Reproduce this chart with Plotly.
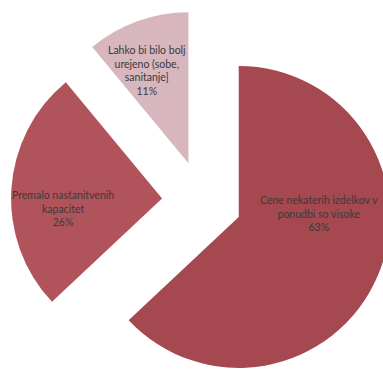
import plotly.graph_objects as go

# Survey responses: reasons for dissatisfaction
labels = [
    "Cene nekaterih izdelkov v<br>ponudbi so visoke",
    "Premalo nastanitvenih<br>kapacitet",
    "Lahko bi bilo bolj<br>urejeno (sobe,<br>sanitanje]",
]
values = [63, 26, 11]
colors = ["#a6484f", "#b1535a", "#d8b6be"]

# Figure geometry (pixels)
FIG_W, FIG_H = 393, 392
M_L, M_T = 11, 10
PLOT_W, PLOT_H = FIG_W - M_L, FIG_H - M_T

# Label block centres in pixels, one per slice
label_px = [(319, 213), (63, 208), (147, 70)]

fig = go.Figure(
    go.Pie(
        labels=labels,
        values=values,
        sort=False,
        direction="clockwise",
        rotation=0,
        pull=[0.265, 0.265, 0.265],
        marker=dict(colors=colors, line=dict(width=0)),
        textinfo="none",
        hoverinfo="label+percent",
        showlegend=False,
    )
)

total = sum(values)
for lab, val, (px, py) in zip(labels, values, label_px):
    fig.add_annotation(
        x=(px - M_L) / PLOT_W,
        y=1 - (py - M_T) / PLOT_H,
        xref="paper",
        yref="paper",
        xanchor="center",
        yanchor="middle",
        align="center",
        showarrow=False,
        text=f"{lab}<br>{round(val / total * 100)}%",
        font=dict(family="Lato", size=10.5, color="#3a3a3a"),
    )

fig.update_layout(
    width=FIG_W,
    height=FIG_H,
    margin=dict(l=M_L, r=0, t=M_T, b=0),
    paper_bgcolor="white",
    plot_bgcolor="white",
    showlegend=False,
)

fig.write_html("out.html")
